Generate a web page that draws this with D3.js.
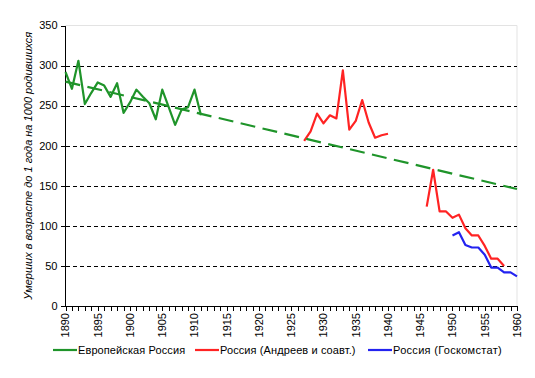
<!DOCTYPE html>
<html>
<head>
<meta charset="utf-8">
<script src="https://cdn.jsdelivr.net/npm/d3@7"></script>
<style>
  body { margin: 0; background: #fff; }
  svg { display: block; font-family: "Liberation Sans", Arial, sans-serif; }
  .axis-text { font-size: 11px; fill: #000; }
</style>
</head>
<body>
<svg id="chart" width="535" height="378"></svg>
<script>
// European Russia, 1890-1911
const euroYears = [1890, 1891, 1892, 1893, 1894, 1895, 1896, 1897, 1898, 1899, 1900,
                   1901, 1902, 1903, 1904, 1905, 1906, 1907, 1908, 1909, 1910, 1911];
const euroValues = [292, 271, 306, 252, 266, 279, 275, 261, 278, 241, 254,
                    270, 261, 253, 233, 270, 248, 226, 245, 248, 270, 238];

// linear trend of the European series (end points)
const trendYears = [1890, 1960];
const trendValues = [280, 146];

// Russia (Andreev et al.), gap during the war
const andreevYears = [1927, 1928, 1929, 1930, 1931, 1932, 1933, 1934, 1935, 1936, 1937, 1938, 1939, 1940,
                      1941,
                      1946, 1947, 1948, 1949, 1950, 1951, 1952, 1953, 1954, 1955, 1956, 1957, 1958];
const andreevValues = [206, 218, 240, 228, 238, 234, 294, 220, 231, 257, 229, 210, 213, 215,
                       null,
                       124, 170, 118, 118, 110, 114, 97, 88, 88, 75, 59, 59, 50];

// Russia (Goskomstat)
const gksYears = [1950, 1951, 1952, 1953, 1954, 1955, 1956, 1957, 1958, 1959, 1960];
const gksValues = [88, 92, 76, 73, 73, 64, 48, 48, 42, 42, 37];

const yTicks = [0, 50, 100, 150, 200, 250, 300, 350];
const xLabelYears = d3.range(1890, 1961, 5);
const xTickYears = d3.range(1890, 1961, 1);

const seriesNames = ['Европейская Россия', 'Россия (Андреев и соавт.)', 'Россия (Госкомстат)'];
const seriesColors = ['#1f942a', '#ff2323', '#2323f0'];
const yTitle = 'Умерших в возрасте до 1 года на 1000 родившихся';

const plotLeft = 65.5, plotRight = 517, plotTop = 25.5, plotBottom = 306;

const svg = d3.select('#chart');
const x = d3.scaleLinear().domain([1890, 1960]).range([plotLeft, plotRight]);
const y = d3.scaleLinear().domain([0, 350]).range([plotBottom, plotTop]);

// plot area border (light)
svg.append('path')
  .attr('d', `M${plotLeft},${plotTop}H${plotRight}V${plotBottom}`)
  .attr('fill', 'none').attr('stroke', '#e3e3e3').attr('stroke-width', 1);

// dashed gridlines
svg.append('g').selectAll('line').data(yTicks.filter(v => v > 0 && v < 350)).enter().append('line')
  .attr('x1', plotLeft).attr('x2', plotRight)
  .attr('y1', d => Math.round(y(d)) + 0.5).attr('y2', d => Math.round(y(d)) + 0.5)
  .attr('stroke', '#000').attr('stroke-dasharray', '4,3')
  .attr('shape-rendering', 'crispEdges');

// y axis
const yAxis = svg.append('g');
yAxis.append('line').attr('x1', plotLeft).attr('x2', plotLeft).attr('y1', plotTop).attr('y2', plotBottom)
  .attr('stroke', '#000').attr('shape-rendering', 'crispEdges');
yAxis.selectAll('.tk').data(yTicks).enter().append('line')
  .attr('x1', plotLeft - 5).attr('x2', plotLeft)
  .attr('y1', d => Math.round(y(d)) + 0.5).attr('y2', d => Math.round(y(d)) + 0.5)
  .attr('stroke', '#000').attr('shape-rendering', 'crispEdges');
yAxis.selectAll('text').data(yTicks).enter().append('text')
  .attr('class', 'axis-text')
  .attr('text-anchor', 'end')
  .attr('x', plotLeft - 8).attr('y', d => y(d)).attr('dy', '0.35em')
  .text(d => d);

// x axis
const xAxis = svg.append('g');
xAxis.append('line').attr('x1', plotLeft).attr('x2', plotRight).attr('y1', plotBottom).attr('y2', plotBottom)
  .attr('stroke', '#000').attr('shape-rendering', 'crispEdges');
xAxis.selectAll('.tk').data(xTickYears).enter().append('line')
  .attr('x1', d => Math.round(x(d)) + 0.5).attr('x2', d => Math.round(x(d)) + 0.5)
  .attr('y1', plotBottom).attr('y2', plotBottom + 5)
  .attr('stroke', '#000').attr('shape-rendering', 'crispEdges');
xAxis.selectAll('text').data(xLabelYears).enter().append('text')
  .attr('class', 'axis-text')
  .attr('text-anchor', 'end')
  .attr('transform', d => `translate(${x(d)},${plotBottom + 7})rotate(-90)`)
  .attr('dy', '0.35em')
  .text(d => d);

// y axis title
svg.append('text')
  .attr('text-anchor', 'middle')
  .attr('font-size', '11px').attr('font-style', 'italic')
  .attr('transform', `translate(32,${(plotTop + plotBottom) / 2})rotate(-90)`)
  .text(yTitle);

// data lines
const line = d3.line()
  .defined(d => d[1] != null)
  .x(d => x(d[0])).y(d => y(d[1]));

function drawSeries(years, values, color, dash){
  const pts = years.map((yr, i) => [yr, values[i]]);
  const p = svg.append('path').datum(pts)
    .attr('d', line)
    .attr('fill', 'none').attr('stroke', color)
    .attr('stroke-width', 2.2)
    .attr('stroke-linejoin', 'round');
  if (dash) p.attr('stroke-dasharray', dash);
  return p;
}

drawSeries(euroYears, euroValues, seriesColors[0]);
drawSeries(andreevYears, andreevValues, seriesColors[1]);
drawSeries(gksYears, gksValues, seriesColors[2]);
drawSeries(trendYears, trendValues, seriesColors[0], '15,7.5');

// legend
const legendX = [53, 195, 368];
const legendY = 350;
const legend = svg.append('g').selectAll('g').data(seriesNames).enter().append('g')
  .attr('transform', (d, i) => `translate(${legendX[i]},${legendY})`);
legend.append('line')
  .attr('x1', 0).attr('x2', 24).attr('y1', 0).attr('y2', 0)
  .attr('stroke', (d, i) => seriesColors[i]).attr('stroke-width', 2.2);
legend.append('text')
  .attr('class', 'axis-text')
  .attr('x', 25).attr('dy', '0.35em')
  .attr('letter-spacing', (d, i) => i == 2 ? '0.3px' : '0.1px')
  .text(d => d);
</script>
</body>
</html>
